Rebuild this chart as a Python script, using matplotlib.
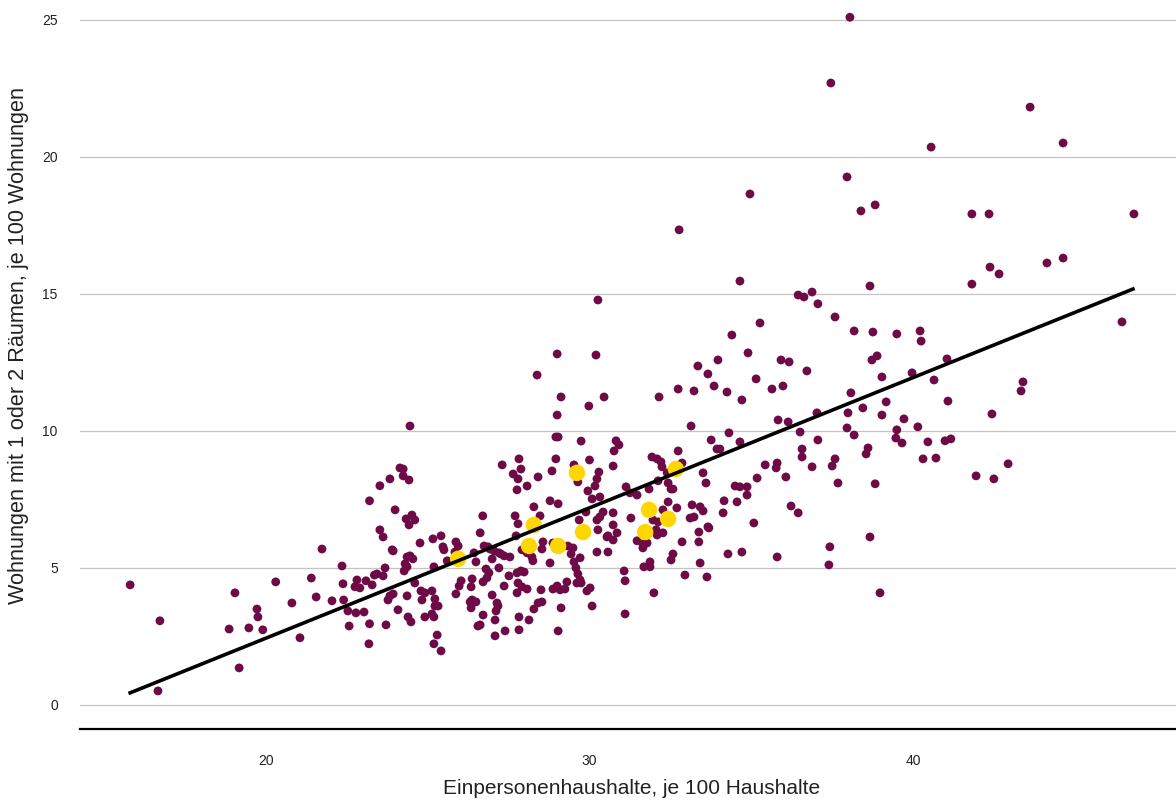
import numpy as np
import matplotlib
matplotlib.use("Agg")
import matplotlib.pyplot as plt

plt.rcParams['font.family'] = ['Liberation Sans', 'DejaVu Sans']

# Kreise: (Einpersonenhaushalte je 100, Wohnungen 1-2 Räume je 100)
kreise = [
    (15.8, 4.38), (16.72, 3.07), (16.66, 0.51), (19.04, 4.09), (19.72, 3.5), (19.75, 3.21),
    (18.86, 2.77), (19.47, 2.81), (19.9, 2.74), (19.17, 1.35), (20.3, 4.49), (20.8, 3.72),
    (21.05, 2.45), (21.4, 4.63), (21.55, 3.94), (21.73, 5.69), (22.04, 3.8), (22.35, 5.07),
    (22.38, 4.42), (22.4, 3.83), (22.53, 3.43), (22.57, 2.88), (22.78, 3.36), (23.03, 3.39),
    (23.2, 2.96), (23.18, 2.23), (22.81, 4.56), (22.75, 4.31), (22.9, 4.27), (23.09, 4.53),
    (23.28, 4.38), (23.35, 4.74), (23.43, 4.78), (23.62, 4.71), (23.68, 5.0), (23.71, 2.92),
    (23.77, 3.83), (23.83, 3.98), (23.93, 4.05), (24.08, 3.47), (23.9, 5.66), (23.62, 6.13),
    (23.52, 6.39), (23.99, 7.12), (23.2, 7.45), (23.52, 8.0), (23.83, 8.25), (24.14, 8.65),
    (29.0, 12.81), (30.2, 12.77), (28.38, 12.04), (29.12, 11.24), (30.45, 11.24), (29.98, 10.91),
    (29.0, 10.58), (24.45, 10.18), (28.96, 9.78), (29.03, 9.78), (29.74, 9.63), (27.82, 8.98),
    (28.96, 8.98), (30.0, 8.94), (27.3, 8.76), (27.88, 8.61), (27.64, 8.43), (27.79, 8.25),
    (28.41, 8.32), (28.84, 8.54), (29.52, 8.76), (29.64, 8.14), (30.29, 8.5), (30.23, 8.25),
    (30.17, 7.99), (29.95, 7.81), (28.07, 7.99), (27.76, 7.85), (30.32, 7.59), (30.08, 7.52),
    (30.42, 7.04), (29.89, 7.04), (30.23, 6.75), (29.68, 6.75), (28.78, 7.45), (29.03, 7.34),
    (28.28, 7.23), (27.7, 6.9), (28.47, 6.9), (27.79, 6.61), (26.7, 6.9), (24.24, 8.61),
    (24.24, 8.36), (24.42, 8.21), (24.33, 6.79), (24.51, 6.93), (24.6, 6.75), (24.42, 6.57),
    (26.62, 6.28), (24.76, 5.91), (25.16, 6.06), (25.41, 6.17), (25.47, 5.77), (25.5, 5.66),
    (25.87, 5.95), (25.94, 5.8), (25.84, 5.58), (23.93, 5.62), (24.45, 5.44), (24.54, 5.33),
    (24.36, 5.4), (24.3, 5.15), (24.27, 4.89), (24.36, 5.04), (25.19, 5.04), (25.6, 5.26),
    (24.6, 4.45), (24.36, 3.98), (24.79, 4.16), (24.91, 4.09), (25.13, 4.16), (24.82, 3.83),
    (25.22, 3.87), (25.32, 3.61), (25.22, 3.61), (24.39, 3.21), (24.48, 3.03), (24.91, 3.21),
    (25.13, 3.32), (25.19, 3.21), (25.29, 2.55), (25.19, 2.23), (25.41, 1.97), (26.03, 4.53),
    (25.97, 4.34), (25.87, 4.05), (26.37, 4.6), (26.34, 4.31), (26.37, 3.83), (26.31, 3.76),
    (26.49, 3.76), (26.34, 3.54), (26.49, 5.22), (26.43, 5.55), (26.74, 5.8), (26.86, 5.77),
    (26.92, 5.69), (27.05, 5.62), (27.2, 5.55), (26.99, 5.33), (26.8, 4.96), (26.89, 4.82),
    (26.83, 4.64), (26.71, 4.49), (27.2, 5.0), (27.26, 5.51), (27.36, 5.44), (27.54, 5.4),
    (27.51, 4.71), (27.36, 4.34), (27.76, 4.82), (27.88, 4.89), (27.98, 4.85), (27.79, 4.45),
    (27.76, 4.09), (27.91, 4.31), (28.07, 4.23), (26.99, 4.01), (27.14, 3.72), (27.17, 3.61),
    (27.11, 3.43), (27.08, 3.1), (26.71, 3.28), (26.62, 2.92), (26.55, 2.88), (27.08, 2.52),
    (27.39, 2.7), (27.82, 2.74), (27.82, 3.21), (28.13, 3.1), (28.5, 4.2), (28.41, 3.72),
    (28.28, 3.5), (28.53, 3.76), (29.12, 3.54), (29.03, 2.7), (28.78, 5.18), (28.87, 4.23),
    (29.0, 4.34), (29.09, 4.2), (29.24, 4.23), (29.3, 4.49), (29.43, 5.51), (29.52, 5.22),
    (29.58, 5.0), (29.64, 4.78), (29.71, 4.56), (29.61, 4.45), (29.74, 4.45), (29.33, 5.8),
    (29.49, 5.73), (29.71, 5.37), (29.92, 4.16), (30.02, 4.27), (30.08, 3.61), (30.23, 5.58),
    (30.54, 6.13), (30.26, 6.39), (28.56, 5.95), (28.53, 5.69), (27.73, 6.17), (27.91, 5.66),
    (28.07, 5.55), (28.22, 5.4), (28.25, 5.26), (28.87, 5.91), (30.57, 5.58),
    (34.4, 13.5), (34.9, 12.85), (33.97, 12.59), (33.35, 12.37), (33.66, 12.08), (35.92, 12.59),
    (36.17, 12.52), (36.72, 12.19), (35.15, 11.9), (33.85, 11.64), (34.25, 11.42), (33.23, 11.46),
    (32.74, 11.53), (32.15, 11.24), (34.71, 11.13), (35.64, 11.53), (35.98, 11.64), (35.83, 10.4),
    (36.14, 10.33), (37.03, 10.66), (33.14, 10.18), (34.31, 9.93), (33.76, 9.67), (34.65, 9.6),
    (30.82, 9.64), (30.91, 9.49), (30.76, 9.27), (33.94, 9.34), (34.03, 9.34), (36.51, 9.96),
    (37.06, 9.67), (36.57, 9.34), (36.57, 9.05), (36.88, 8.69), (35.43, 8.76), (35.8, 8.83),
    (35.77, 8.65), (36.07, 8.32), (35.18, 8.28), (32.74, 9.27), (31.93, 9.05), (32.09, 8.98),
    (32.21, 8.87), (32.24, 8.69), (32.86, 8.83), (30.73, 8.72), (33.51, 8.47), (33.6, 8.1),
    (32.4, 8.47), (32.43, 8.1), (32.52, 7.88), (32.58, 7.88), (32.12, 8.18), (31.13, 7.96),
    (31.25, 7.74), (31.47, 7.66), (31.84, 7.88), (34.5, 7.99), (34.65, 7.96), (34.87, 7.96),
    (34.87, 7.66), (34.56, 7.41), (34.16, 7.45), (34.13, 7.01), (36.23, 7.26), (36.45, 7.01),
    (35.08, 6.64), (33.17, 7.3), (33.42, 7.23), (33.51, 7.08), (33.11, 6.82), (33.23, 6.86),
    (33.66, 6.5), (32.7, 7.19), (32.43, 7.41), (32.27, 7.12), (30.73, 7.01), (30.32, 6.86),
    (31.28, 6.82), (31.96, 6.75), (32.12, 6.68), (30.73, 6.57),
    (30.85, 6.28), (30.57, 6.17), (30.73, 6.02), (31.47, 5.99), (31.65, 5.88), (31.78, 5.91),
    (31.65, 5.73), (32.06, 6.39), (32.09, 6.2), (32.27, 6.28), (32.86, 5.95), (33.38, 6.31),
    (33.38, 5.95), (33.69, 6.46), (32.58, 5.51), (32.52, 5.29), (31.87, 5.22), (31.68, 5.04),
    (31.87, 5.04), (33.42, 5.18), (34.28, 5.51), (34.71, 5.58), (35.8, 5.4), (31.07, 4.89),
    (31.1, 4.53), (31.99, 4.09), (31.1, 3.32), (32.95, 4.74), (33.63, 4.67),
    (36.88, 15.07), (37.06, 14.64), (37.59, 14.16), (38.67, 15.29), (41.82, 15.36), (42.38, 15.98),
    (38.18, 13.65), (38.76, 13.61), (39.5, 13.54), (40.22, 13.65), (40.25, 13.28), (38.73, 12.59),
    (38.89, 12.74), (41.05, 12.63), (39.04, 11.97), (39.97, 12.12), (40.65, 11.86), (38.08, 11.39),
    (39.17, 11.06), (38.45, 10.84), (37.99, 10.66), (39.04, 10.58), (41.08, 11.09), (39.72, 10.44),
    (40.15, 10.15), (37.96, 10.11), (38.18, 9.85), (39.5, 10.04), (39.47, 9.74), (39.66, 9.56),
    (40.46, 9.6), (40.99, 9.64), (41.17, 9.71), (38.61, 9.38), (38.55, 9.16), (37.59, 8.98),
    (37.5, 8.72), (40.31, 8.98), (40.71, 9.01), (37.68, 8.1), (38.83, 8.07), (41.95, 8.36),
    (38.67, 6.13), (37.43, 5.77), (37.4, 5.11), (38.98, 4.09),
    (41.82, 17.92), (42.35, 17.92), (46.83, 17.92), (42.66, 15.73), (44.14, 16.13), (44.64, 16.31),
    (46.46, 13.98), (43.4, 11.79), (43.34, 11.46), (42.44, 10.62), (42.5, 8.25), (42.94, 8.8),
    (38.05, 25.1), (37.46, 22.7), (40.56, 20.36), (37.96, 19.27), (34.96, 18.65), (38.39, 18.03),
    (38.83, 18.25), (32.77, 17.34), (34.65, 15.47), (36.45, 14.96), (36.63, 14.89), (35.27, 13.94),
    (43.62, 21.82), (44.64, 20.51), (30.26, 14.78),
]

# hervorgehobene Kreise (gelb)
highlight_x = [25.94, 28.13, 28.28, 29.03, 29.61, 29.8, 31.72, 31.84, 32.43, 32.67]
highlight_y = [5.33, 5.8, 6.57, 5.8, 8.47, 6.31, 6.31, 7.12, 6.79, 8.61]

# Trendlinie, Endpunkte aus der Grafik
trend_x = [15.8, 46.8]
trend_y = [0.44, 15.18]

y_ticks = [0, 5, 10, 15, 20, 25]
x_ticks = [20, 30, 40]

kx = np.array([p[0] for p in kreise])
ky = np.array([p[1] for p in kreise])

fig = plt.figure(figsize=(11.76, 8.01), dpi=100)
ax = fig.add_axes([80 / 1176, 1 - 729 / 801, 1 - 80 / 1176, 729 / 801])

ax.scatter(kx, ky, s=40, color='#6e0a46', edgecolors='none', zorder=3)
ax.scatter(highlight_x, highlight_y, s=140, color='#ffd700', edgecolors='none', zorder=4)
ax.plot(trend_x, trend_y, color='black', linewidth=2.6, zorder=5)

ax.set_xlim(14.25, 48.13)
ax.set_ylim(-0.88, 25.73)
ax.set_yticks(y_ticks)
ax.set_xticks(x_ticks)
ax.yaxis.grid(True, color='#c4c4c4', linewidth=0.9)
ax.set_axisbelow(True)

for side in ['top', 'right', 'left']:
    ax.spines[side].set_visible(False)
ax.spines['bottom'].set_color('black')
ax.spines['bottom'].set_linewidth(1.6)
ax.tick_params(axis='both', length=0, labelsize=10, colors='#222222')
ax.tick_params(axis='y', pad=16)
ax.tick_params(axis='x', pad=18)

# Achsentitel
fig.text(632 / 1176, 1 - 789 / 801, 'Einpersonenhaushalte, je 100 Haushalte',
         fontsize=15, color='#222222', ha='center', va='center')
fig.text(19 / 1176, 1 - 345 / 801, 'Wohnungen mit 1 oder 2 Räumen, je 100 Wohnungen',
         fontsize=15.6, color='#222222', ha='center', va='center', rotation=90)

fig.savefig('out.png', dpi=100)
